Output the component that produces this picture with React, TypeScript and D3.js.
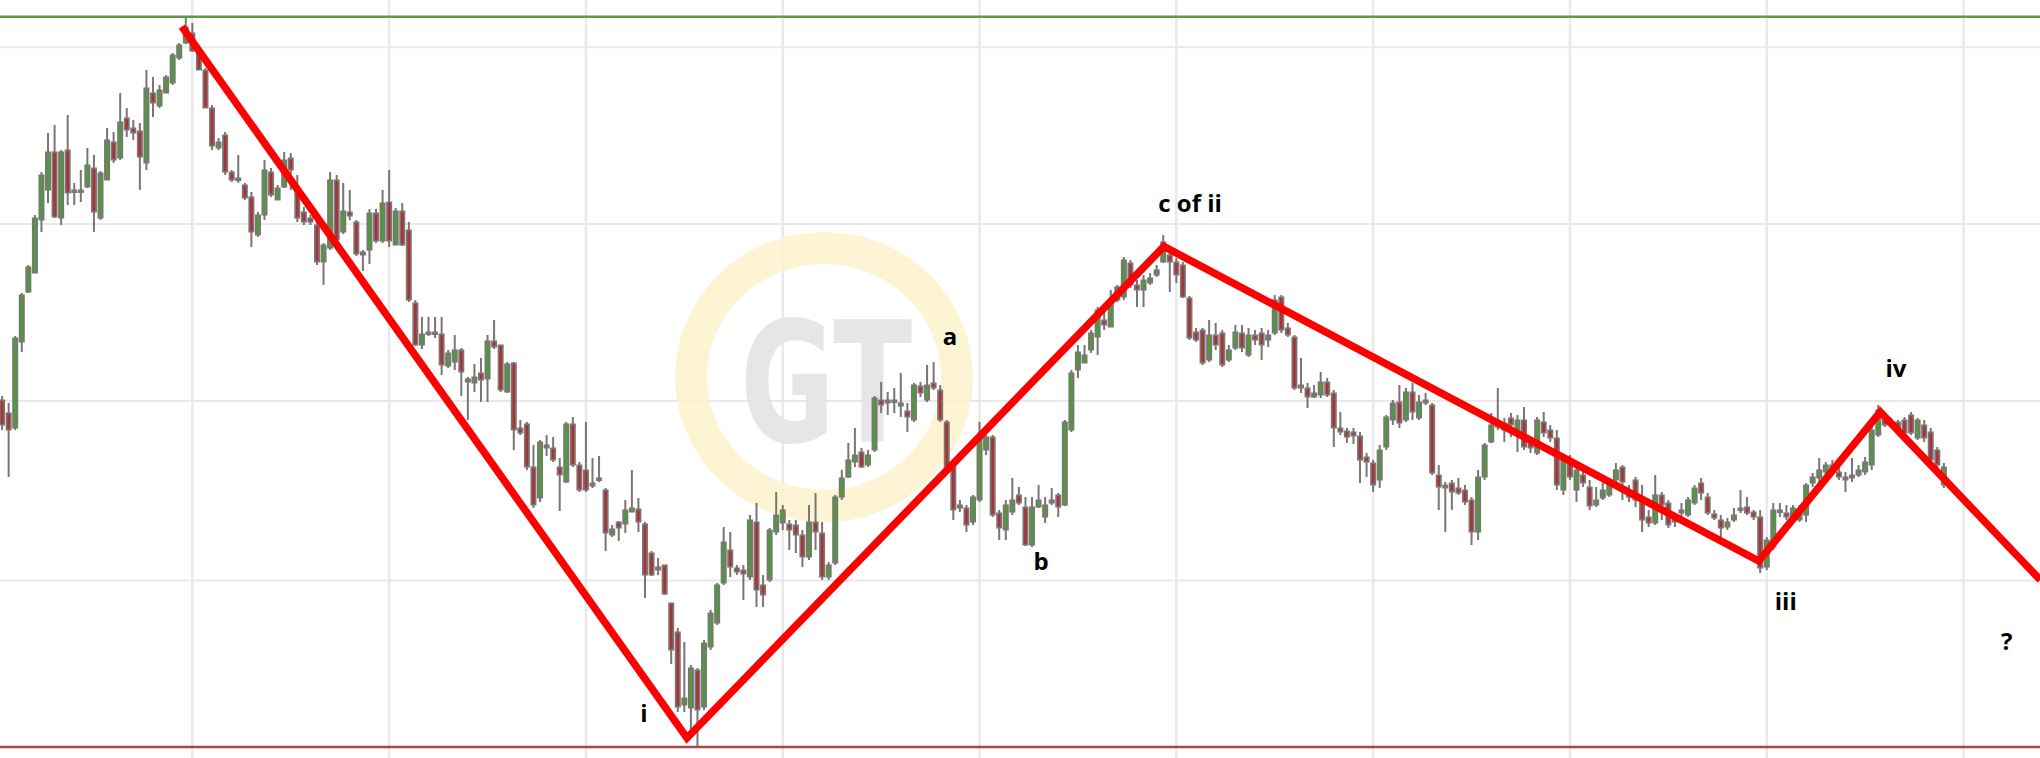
import React from 'react';
import * as d3 from 'd3';

const W = 2040;
const H = 758;

// Candle values (index points), one entry per bar, oldest first
const opens = [600,587,572,658,708,727,780,810,848,782,850,810,809,813,832,782,820,858,842,882,872,869,837,907,894,907,917,942,957,967,947,930,892,852,865,828,822,815,803,765,785,828,800,813,842,810,788,782,775,738,752,820,768,788,778,748,750,787,759,798,755,789,770,697,655,668,667,666,634,638,650,621,617,627,621,659,655,608,637,572,576,533,502,555,552,533,518,576,535,530,514,522,510,465,478,476,488,491,476,447,430,435,397,368,295,292,330,293,353,377,417,450,432,430,423,478,415,420,468,477,476,475,465,443,478,467,423,437,503,523,538,548,535,550,600,600,598,597,589,580,614,600,617,610,578,533,495,492,478,500,550,563,487,470,488,505,493,455,493,483,497,505,495,570,630,637,650,663,680,673,700,703,737,715,710,717,725,738,745,738,735,702,668,670,640,665,667,640,652,667,645,665,667,660,667,703,672,663,612,612,603,605,618,607,572,569,568,564,543,537,520,553,580,598,580,608,582,600,595,525,515,517,512,510,500,468,523,558,573,577,582,567,580,557,547,578,570,562,510,538,510,525,513,495,502,505,520,533,508,520,500,483,477,505,497,482,490,485,497,517,503,486,480,473,480,490,493,488,483,433,453,488,487,483,480,485,517,522,528,535,528,523,522,525,528,535,565,580,578,578,580,585,562,575,568,550,515];
const highs = [604,597,664,707,735,785,828,867,875,850,885,817,830,852,845,829,872,868,907,892,880,877,930,923,915,925,947,957,982,977,950,932,895,862,868,830,845,817,808,788,840,832,815,848,847,825,793,785,778,757,828,825,817,810,780,750,791,791,810,830,792,797,778,700,683,683,683,683,650,665,652,623,636,642,665,680,655,638,638,580,578,555,560,565,563,542,578,583,538,578,542,544,512,475,479,500,530,502,478,449,442,435,397,372,358,335,332,360,390,417,473,468,435,435,485,497,425,472,508,495,480,480,470,495,507,478,438,505,530,557,572,552,550,604,618,608,612,627,597,617,618,635,638,615,580,535,500,495,505,578,565,565,490,500,522,513,503,503,515,503,512,507,580,630,655,655,670,693,690,710,715,743,740,720,725,727,735,765,750,742,738,704,672,672,680,677,670,655,675,675,672,670,672,670,705,705,677,665,642,617,615,628,622,610,588,572,572,568,547,540,555,585,600,615,612,617,605,607,597,535,518,520,522,515,503,530,557,587,612,582,587,585,593,560,583,588,575,570,545,545,533,530,520,513,517,518,537,535,515,523,515,490,525,508,500,487,497,503,515,522,507,490,485,482,492,510,503,490,490,463,497,497,495,495,495,517,527,542,538,540,535,528,542,535,543,575,595,585,582,580,583,588,582,580,572,553,537];
const lows = [570,523,570,648,707,727,768,797,782,775,795,795,798,812,768,780,820,837,840,863,860,810,830,883,892,907,915,940,956,948,930,892,850,850,825,818,817,800,753,763,780,803,800,812,810,778,775,775,735,715,750,755,766,780,744,729,736,757,757,753,755,754,698,654,651,664,662,625,632,630,604,580,608,598,598,651,608,607,550,565,530,492,498,544,538,489,517,533,508,508,512,518,449,463,459,467,488,468,402,424,425,405,336,288,288,263,254,290,350,375,415,423,425,400,420,393,393,418,465,470,450,447,433,440,450,420,420,435,500,522,533,532,533,548,587,585,587,583,568,578,603,598,610,578,532,480,488,468,475,498,545,483,460,460,485,495,454,453,492,477,495,483,494,568,622,637,647,645,670,673,698,700,712,693,693,715,723,737,708,717,702,660,658,635,638,650,633,638,650,648,643,655,640,653,665,667,663,610,607,592,602,602,603,553,565,557,556,517,523,508,512,550,575,572,578,580,580,595,525,490,468,490,505,495,455,460,520,557,570,558,563,548,550,547,545,563,558,510,505,520,498,513,490,493,500,503,517,500,498,493,468,473,475,480,472,473,482,483,495,500,485,480,463,470,478,487,485,480,427,430,450,483,480,480,478,478,513,517,520,527,520,508,518,523,525,530,563,573,572,565,565,565,560,558,538,532,512];
const closes = [575,570,662,705,733,782,825,848,783,848,807,809,810,835,788,827,860,840,878,870,867,843,912,897,910,923,945,955,973,949,930,892,854,858,828,820,820,802,768,785,830,805,812,840,830,782,778,778,738,755,820,760,789,784,746,745,787,759,797,759,789,755,700,655,666,666,668,635,647,650,628,618,623,620,659,653,610,636,570,567,533,495,558,552,540,525,576,535,510,510,517,520,467,471,472,490,492,478,425,425,433,406,350,293,302,332,290,357,387,415,458,433,428,426,480,410,405,470,485,490,470,465,443,478,468,423,435,503,522,540,545,533,545,602,595,597,600,594,583,615,607,615,612,580,533,490,492,475,503,562,563,485,472,495,500,497,455,493,500,495,500,493,578,627,648,645,667,690,675,700,713,740,715,710,720,722,730,758,738,725,703,662,660,637,665,655,635,650,668,652,665,660,655,665,700,670,665,612,615,603,607,618,605,572,568,563,564,540,538,515,550,583,597,577,608,588,598,597,527,513,512,508,507,498,468,523,555,575,578,570,575,580,553,552,580,567,562,515,540,523,530,517,494,500,510,515,530,518,503,500,480,477,505,495,475,478,487,500,512,507,487,482,472,478,485,492,487,483,432,460,490,490,483,492,490,515,523,530,535,530,523,520,525,530,538,570,590,575,575,568,567,567,580,562,540,535,533];

// Horizontal grid levels (price) and vertical grid bars (bar index)
const priceTicks = [419.5, 599, 776, 952.7];
const timeTicks = [29, 59, 89, 119, 149, 179, 209, 239, 269, 299];

// Reference levels
const resistanceLevel = 983.3;
const supportLevel = 253;

// Elliott wave count path
const waveIndex = [27.4, 104.4, 177.1, 267.8, 286.3, 310.7];
const wavePrice = [973.3, 262, 753.5, 439, 588, 420];

// Wave labels
const labelText = ['i', 'a', 'b', 'c of ii', 'iii', 'iv', '?'];
const labelIndex = [97.85, 144.5, 158.4, 181.1, 271.9, 288.7, 305.6];
const labelPrice = [278, 655, 430, 788, 390, 623, 350];

const GRAY = '#7b7575';
const UP = '#4c9d38';
const DOWN = '#aa3232';

export default function App() {
  const x = d3.scaleLinear().domain([0, 310]).range([2.1, 2.1 + 310 * 6.56]);
  const y = d3.scaleLinear().domain([supportLevel, resistanceLevel]).range([747, 16.7]);

  const wavePts: [number, number][] = waveIndex.map((d, i) => [x(d), y(wavePrice[i])]);
  const waveLine = d3.line()(wavePts) || '';

  const candles = opens.map((o, i) => {
    const c = closes[i];
    const hi = Math.max(highs[i], o, c);
    const lo = Math.min(lows[i], o, c);
    const cx = x(i);
    const top = y(Math.max(o, c));
    const bot = y(Math.min(o, c));
    const bh = Math.max(2.5, bot - top);
    const diff = c - o;
    const col = Math.abs(diff) < 2 ? null : diff > 0 ? UP : DOWN;
    return (
      <g key={i}>
        <rect x={cx - 1} y={y(hi)} width={2} height={Math.max(1, y(lo) - y(hi))} fill={GRAY} />
        <rect x={cx - 3} y={top - 0.5} width={6} height={bh + 1} fill={GRAY} />
        {col && bh > 3.5 ? (
          <rect x={cx - 1.25} y={top + 1.2} width={2.5} height={bh - 2.4} fill={col} />
        ) : null}
      </g>
    );
  });

  return (
    <svg
      width={W}
      height={H}
      viewBox={`0 0 ${W} ${H}`}
      style={{ position: 'absolute', left: 0, top: 0, background: '#fff' }}
    >
      <rect x={0} y={0} width={W} height={H} fill="#fff" />
      {/* grid */}
      {priceTicks.map((p, i) => (
        <line key={'h' + i} x1={0} x2={W} y1={y(p)} y2={y(p)} stroke="#e9e9e9" strokeWidth={2} />
      ))}
      {timeTicks.map((t, i) => (
        <line key={'v' + i} x1={x(t)} x2={x(t)} y1={0} y2={H} stroke="#e9e9e9" strokeWidth={2.5} />
      ))}
      {/* watermark */}
      <g>
        <ellipse cx={824} cy={377} rx={133} ry={129} fill="none" stroke="#fdf2cc" strokeWidth={32} opacity={0.85} />
        <text
          transform="translate(740,442) scale(0.69,1)"
          x={0}
          y={0}
          fontFamily="DejaVu Sans"
          fontWeight="bold"
          fontSize={168}
          fill="#e4e4e4"
          opacity={0.9}
        >
          GT
        </text>
      </g>
      {/* level lines */}
      <line x1={0} x2={W} y1={y(resistanceLevel)} y2={y(resistanceLevel)} stroke="#5a9f3c" strokeWidth={2.5} />
      <line x1={0} x2={W} y1={y(supportLevel)} y2={y(supportLevel)} stroke="#b04646" strokeWidth={2.5} />
      {/* candles */}
      <g>{candles}</g>
      {/* wave path */}
      <path d={waveLine} fill="none" stroke="#ff0000" strokeWidth={7.5} strokeLinejoin="miter" strokeLinecap="butt" />
      {/* labels */}
      {labelText.map((t, i) => (
        <text
          key={'l' + i}
          x={x(labelIndex[i])}
          y={y(labelPrice[i])}
          textAnchor="middle"
          fontFamily="'Open Sans', 'DejaVu Sans', sans-serif"
          fontWeight={700}
          fontSize={24}
          fill="#000"
        >
          {t}
        </text>
      ))}
    </svg>
  );
}
